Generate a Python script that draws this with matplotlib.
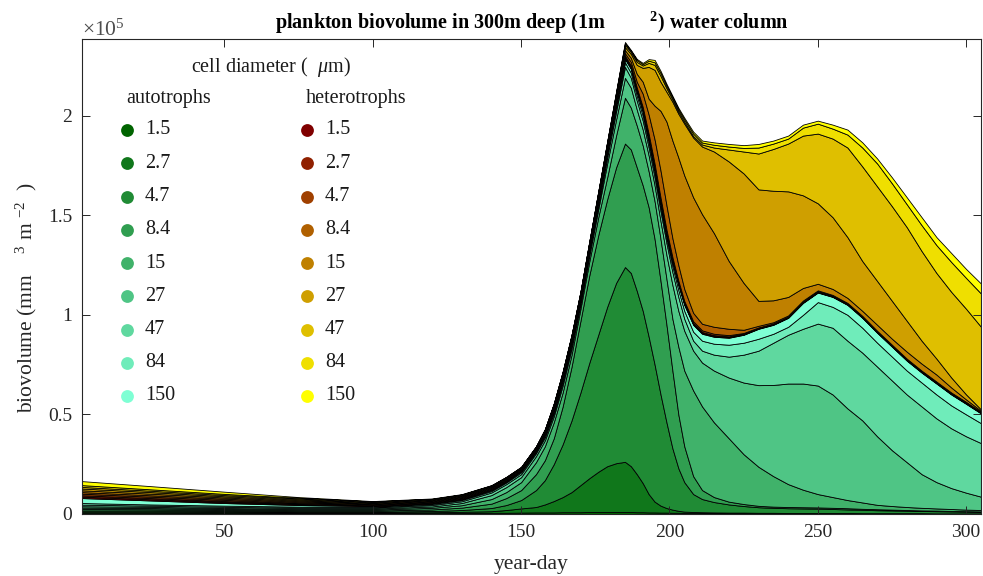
import matplotlib
matplotlib.use("Agg")
import numpy as np
import matplotlib.pyplot as plt
from matplotlib.ticker import FixedLocator, FuncFormatter

plt.rcParams['font.family'] = ['Liberation Serif', 'DejaVu Serif']
plt.rcParams['mathtext.fontset'] = 'custom'
plt.rcParams['mathtext.rm'] = 'Liberation Serif'
plt.rcParams['mathtext.it'] = 'Liberation Serif:italic'
plt.rcParams['mathtext.bf'] = 'Liberation Serif:bold'

UNIT = 1e5  # biovolume values below are in units of 1e5 mm^3 m^-2

days = [2, 25, 50, 75, 100, 120, 130, 140, 145, 150, 155, 158, 161, 164, 167, 170, 173, 176,
        179, 182, 185, 187, 189, 191, 193, 195, 197, 199, 201, 203, 205, 208, 211, 215, 220,
        225, 230, 235, 240, 245, 250, 255, 260, 265, 270, 275, 280, 285, 290, 295, 300, 305]

size_labels = ["1.5", "2.7", "4.7", "8.4", "15", "27", "47", "84", "150"]

# autotrophs, by cell diameter (um)
auto_1_5 = [.006, .006, .005, .004, .004, .004, .005, .006, .006, .007, .008, .008, .008, .009, .009, .009, .010, .010,
            .010, .010, .010, .010, .009, .009, .008, .008, .007, .007, .006, .006, .005, .005, .005, .004, .004,
            .004, .004, .004, .003, .003, .003, .003, .003, .003, .003, .002, .002, .002, .002, .002, .002, .002]
auto_2_7 = [.006, .006, .005, .004, .004, .005, .006, .008, .014, .021, .027, .040, .057, .076, .101, .136, .170, .202,
            .230, .245, .252, .230, .191, .146, .092, .054, .035, .023, .016, .010, .007, .005, .004, .004, .003,
            .003, .002, .002, .002, .002, .002, .002, .002, .001, .001, .002, .002, .002, .001, .001, .001, .001]
auto_4_7 = [.006, .006, .005, .004, .004, .006, .009, .016, .025, .042, .085, .122, .185, .265, .360, .465, .580, .688,
            .800, .905, .978, .970, .920, .865, .790, .688, .558, .430, .308, .214, .148, .090, .066, .052, .041,
            .033, .028, .025, .024, .023, .022, .020, .018, .017, .015, .014, .012, .011, .011, .010, .009, .008]
auto_8_4 = [.007, .006, .005, .005, .005, .008, .012, .022, .035, .050, .080, .100, .130, .190, .270, .360, .440, .500,
            .540, .580, .620, .620, .620, .630, .650, .630, .570, .490, .390, .270, .180, .090, .045, .025, .014,
            .010, .007, .006, .006, .006, .006, .006, .006, .005, .005, .004, .004, .003, .003, .002, .002, .002]
auto_15 = [.007, .006, .005, .005, .005, .008, .012, .023, .030, .040, .060, .070, .080, .070, .060, .060, .070, .090,
           .110, .160, .230, .210, .210, .200, .180, .190, .210, .230, .260, .340, .380, .430, .420, .375, .318,
           .250, .196, .153, .115, .088, .067, .054, .041, .032, .022, .018, .015, .013, .011, .010, .008, .007]
auto_27 = [.007, .006, .005, .005, .005, .007, .011, .020, .025, .025, .030, .030, .030, .035, .030, .025, .030, .040,
           .070, .080, .100, .100, .080, .080, .080, .080, .090, .120, .170, .180, .200, .200, .220, .260, .305,
           .360, .410, .458, .505, .533, .545, .515, .460, .412, .344, .280, .225, .169, .132, .105, .085, .067]
auto_47 = [.008, .006, .006, .005, .005, .007, .009, .013, .015, .015, .015, .015, .015, .017, .018, .013, .013, .020,
           .030, .040, .055, .050, .045, .045, .040, .040, .050, .060, .065, .070, .060, .050, .060, .080, .105,
           .140, .173, .212, .245, .275, .311, .335, .340, .340, .350, .350, .340, .340, .320, .300, .283, .269]
auto_84 = [.008, .006, .006, .005, .004, .005, .006, .007, .008, .009, .007, .008, .010, .010, .010, .008, .009, .012,
           .015, .020, .023, .025, .025, .025, .025, .025, .025, .025, .030, .035, .040, .045, .050, .055, .060,
           .060, .060, .045, .040, .070, .108, .105, .130, .125, .120, .120, .120, .120, .120, .115, .110, .100]
auto_150 = [.025, .020, .013, .008, .004, .004, .004, .005, .005, .006, .006, .007, .007, .008, .007, .006, .008, .013,
            .015, .020, .017, .020, .020, .020, .015, .015, .015, .015, .020, .025, .030, .035, .035, .035, .035,
            .040, .050, .045, .045, .060, .048, .050, .050, .050, .050, .050, .050, .050, .055, .055, .053, .049]

# heterotrophs, by cell diameter (um)
hetero_1_5 = [.007, .006, .005, .004, .003, .003, .003, .003, .003, .003, .003, .003, .004, .004, .004, .004, .004, .004,
              .004, .004, .004, .004, .005, .005, .006, .006, .006, .006, .005, .005, .004, .004, .004, .003, .003,
              .002, .002, .002, .002, .002, .002, .002, .002, .002, .002, .002, .002, .002, .002, .002, .002, .002]
hetero_2_7 = [.007, .006, .005, .004, .003, .003, .003, .003, .003, .003, .003, .003, .004, .004, .004, .004, .005, .005,
              .005, .005, .005, .005, .006, .007, .008, .008, .008, .008, .007, .006, .006, .005, .005, .005, .004,
              .003, .002, .002, .002, .002, .002, .002, .002, .002, .002, .002, .002, .002, .002, .002, .002, .002]
hetero_4_7 = [.008, .007, .006, .004, .003, .003, .004, .004, .004, .004, .004, .004, .005, .005, .005, .005, .006, .007,
              .007, .008, .008, .009, .010, .012, .015, .015, .015, .014, .013, .011, .010, .009, .008, .007, .006,
              .004, .003, .003, .002, .002, .002, .002, .002, .002, .002, .002, .002, .002, .002, .002, .002, .002]
hetero_8_4 = [.008, .007, .006, .005, .003, .003, .004, .004, .004, .004, .004, .005, .006, .006, .006, .006, .007, .008,
              .009, .011, .012, .017, .029, .066, .096, .121, .135, .122, .095, .078, .060, .042, .033, .035, .032,
              .016, .008, .006, .006, .006, .005, .004, .004, .004, .004, .004, .004, .004, .004, .004, .004, .002]
hetero_15 = [.009, .008, .006, .005, .003, .003, .003, .003, .003, .003, .003, .004, .005, .006, .006, .006, .007, .008,
             .009, .011, .015, .020, .040, .060, .080, .170, .300, .420, .490, .540, .570, .580, .550, .470, .340,
             .235, .125, .110, .093, .063, .033, .030, .025, .025, .030, .030, .035, .035, .035, .025, .012, .005]
hetero_27 = [.009, .008, .006, .005, .003, .003, .003, .003, .003, .002, .002, .003, .004, .005, .005, .005, .005, .006,
             .007, .009, .015, .020, .045, .070, .160, .180, .146, .150, .195, .220, .260, .300, .340, .410, .500,
             .550, .560, .550, .530, .465, .404, .360, .305, .250, .220, .190, .155, .115, .080, .050, .025, .007]
hetero_47 = [.008, .007, .006, .005, .003, .002, .002, .002, .002, .001, .001, .002, .002, .002, .002, .002, .003, .003,
             .004, .005, .012, .010, .015, .012, .020, .025, .030, .018, .012, .011, .010, .008, .010, .020, .060,
             .110, .180, .210, .240, .300, .350, .395, .450, .475, .475, .475, .470, .450, .430, .430, .430, .415]
hetero_84 = [.009, .007, .006, .004, .002, .002, .002, .002, .001, .001, .001, .001, .002, .002, .002, .002, .002, .002,
             .003, .004, .008, .006, .009, .007, .011, .013, .014, .012, .010, .010, .011, .012, .010, .014, .015,
             .018, .030, .027, .025, .040, .050, .050, .065, .095, .115, .115, .115, .130, .140, .150, .155, .167]
hetero_150 = [.020, .016, .011, .004, .002, .002, .002, .001, .001, .001, .001, .001, .001, .001, .001, .001, .001, .002,
              .002, .003, .006, .004, .006, .006, .008, .012, .011, .010, .008, .009, .009, .010, .010, .012, .013,
              .014, .018, .015, .015, .015, .015, .020, .025, .026, .025, .030, .035, .040, .040, .045, .045, .050]

autotrophs = [auto_1_5, auto_2_7, auto_4_7, auto_8_4, auto_15, auto_27, auto_47, auto_84, auto_150]
heterotrophs = [hetero_1_5, hetero_2_7, hetero_4_7, hetero_8_4, hetero_15, hetero_27, hetero_47, hetero_84, hetero_150]
for series in autotrophs + heterotrophs:
    assert len(series) == len(days), len(series)

auto_colors = ['#006400', '#10771b', '#208b35', '#309e50', '#40b26a',
               '#4fc585', '#5fd89f', '#6fecba', '#7fffd4']
hetero_colors = ['#800000', '#902000', '#a04000', '#b06000', '#bf8000',
                 '#cf9f00', '#dfbf00', '#efdf00', '#ffff00']

W, H = 983, 576
fig = plt.figure(figsize=(W / 100, H / 100), dpi=100)
ax = fig.add_axes([82 / W, 1 - 514 / H, (981 - 82) / W, (514 - 39) / H])

layers = [np.asarray(v) * UNIT for v in autotrophs + heterotrophs]
ax.stackplot(days, *layers, colors=auto_colors + hetero_colors,
             edgecolor='black', linewidth=0.6)

ax.set_xlim(2, 305)
ax.set_ylim(0, 2.385 * UNIT)

axis_grey = '#262626'
ax.xaxis.set_major_locator(FixedLocator([50, 100, 150, 200, 250, 300]))
ax.yaxis.set_major_locator(FixedLocator(np.array([0, 0.5, 1, 1.5, 2]) * UNIT))
ax.yaxis.set_major_formatter(FuncFormatter(lambda v, p: f"{v / UNIT:g}"))
ax.tick_params(direction='in', length=6, width=0.7, top=True, right=True,
               labelsize=14, colors=axis_grey, pad=7)
for s in ax.spines.values():
    s.set_color(axis_grey)
    s.set_linewidth(0.8)

ax.text(0.0, 0.996, r'$\times10^{5}$', transform=ax.transAxes, fontsize=15.5,
        color='#4d4d4d', ha='left', va='bottom')

ax.set_title(r'plankton biovolume in 300m deep (1m         $^{\mathbf{2}}$) water column',
             fontsize=14.5, fontweight='bold', pad=7)
ax.set_xlabel('year-day', fontsize=15.5, color=axis_grey, labelpad=10)
ax.set_ylabel(r'biovolume (mm    $^{3}$ m $^{-2}$  )', fontsize=15.5, color=axis_grey)
ax.yaxis.set_label_coords((39 - 82) / (981 - 82), (514 - 298) / (514 - 39))

# size-class key drawn inside the axes
def ax_xy(px, py):
    return (px - 82) / (981 - 82), (514 - py) / (514 - 39)

fs = 14.5
ink = '#1a1a1a'
x, y = ax_xy(271, 67)
ax.text(x, y, r'cell diameter (  $\mu$m)', transform=ax.transAxes, fontsize=fs,
        ha='center', va='center', color=ink)
x, y = ax_xy(126, 98)
ax.text(x, y, 'autotrophs', transform=ax.transAxes, fontsize=fs, ha='left', va='center', color=ink)
x, y = ax_xy(306, 98)
ax.text(x, y, 'heterotrophs', transform=ax.transAxes, fontsize=fs, ha='left', va='center', color=ink)

row_px = np.linspace(130, 396, 9)
for i, lab in enumerate(size_labels):
    for cx, cols in ((127, auto_colors), (307, hetero_colors)):
        mx, my = ax_xy(cx, row_px[i])
        ax.scatter([mx], [my], s=85, color=cols[i], transform=ax.transAxes,
                   zorder=5, clip_on=False, linewidths=0)
        tx, ty = ax_xy(cx + 18, row_px[i])
        ax.text(tx, ty, lab, transform=ax.transAxes, fontsize=fs, ha='left',
                va='center', color=ink)

fig.savefig('out.png', dpi=100)
